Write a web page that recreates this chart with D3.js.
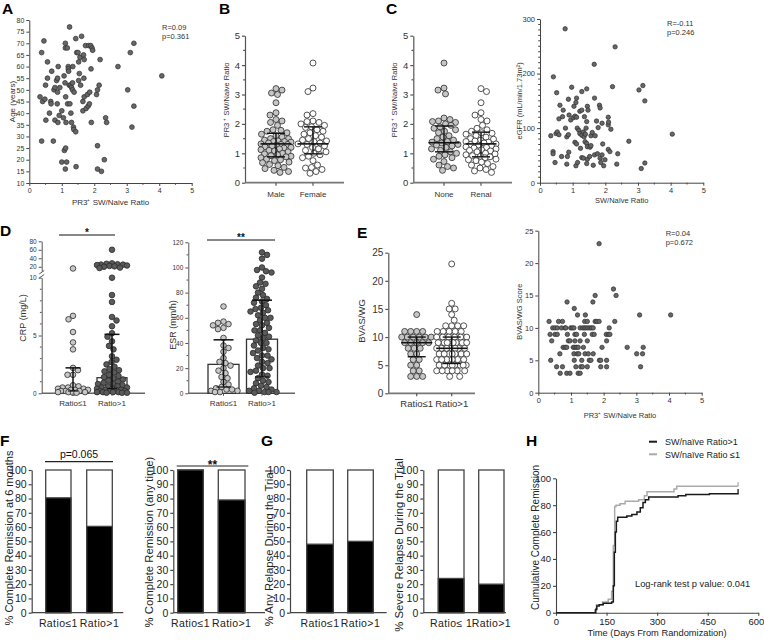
<!DOCTYPE html>
<html><head><meta charset="utf-8">
<script src="https://cdn.jsdelivr.net/npm/d3@7"></script>
<style>body{margin:0;background:#fff} svg{display:block}</style>
</head><body>
<svg id="chart" width="764" height="642"></svg>
<script>
// ================= DATA =================
// A: age vs PR3+ SW/naive ratio
const aRatio = [0.33,0.38,0.38,0.45,0.41,0.48,0.5,0.51,0.56,0.56, 0.62,0.66,0.67,0.69,0.74,0.76,0.79,0.79,0.84,0.86, 0.87,0.87,0.89,0.88,0.92,0.94,1.0,1.0,1.05,1.07, 1.08,1.1,1.11,1.11,1.12,1.12,1.11,1.13,1.15,1.17, 1.18,1.2,1.2,1.21,1.23,1.24,1.25,1.27,1.28,1.3, 1.3,1.33,1.33,1.34,1.36,1.37,1.38,1.43,1.43,1.44, 1.46,1.5,1.52,1.52,1.54,1.56,1.58,1.61,1.65,1.65, 1.67,1.68,1.69,1.69,1.73,1.75,1.79,1.81,1.83,1.85, 1.86,1.89,1.9,1.91,1.93,1.95,2.07,2.1,2.1,2.1, 2.15,2.18,2.22,2.31,2.35,2.38,2.73,3.03,3.11,3.16, 3.22,3.22,4.08];
const aAge = [47,66,28,71,45,46,52,37,55,62, 40,45,44,58,28,50,51,37,54,44, 49,55,60,36,39,51,41,19,38,56, 24,53,68,70,25,47,16,36,19,68, 44,60,59,58,52,77,44,52,40,36, 51,53,50,60,34,33,49,72,32,17, 66,66,54,62,57,64,52,73,45,41, 65,55,63,47,69,42,48,43,69,44, 49,69,59,36,68,67,48,50,26,16, 52,63,15,20,38,36,60,50,66,34, 70,43,56];
const aStats = ["R=0.09", "p=0.361"];

// B: ratio by sex
const bMale = [3.2,3.15,3.05,3.0,2.72,2.38,2.3,2.15,2.1,2.05,1.95,1.8,1.78,1.75,1.7,1.65,1.6,1.55,1.5,1.5,1.45,1.42,1.4,1.4,1.38,1.35,1.32,1.3,1.3,1.28,1.25,1.22,1.2,1.18,1.15,1.12,1.1,1.08,1.05,1.0,0.98,0.95,0.92,0.9,0.88,0.85,0.8,0.78,0.75,0.7,0.68,0.62,0.58,0.52,0.48,0.42,0.38,0.35];
const bFemale = [4.07,3.22,3.1,2.35,2.3,2.1,2.08,2.05,2.0,1.95,1.9,1.88,1.8,1.75,1.7,1.65,1.6,1.55,1.5,1.45,1.42,1.4,1.35,1.32,1.3,1.25,1.2,1.15,1.1,1.05,1.0,0.95,0.9,0.85,0.75,0.6,0.52,0.5,0.45,0.38,0.32];
const bSummary = {male:[0.88,1.32,1.68], female:[0.98,1.32,1.9]}; // q1, median, q3
const bCats = ["Male","Female"];

// C: ratio by renal involvement
const cNone = [4.07,3.22,3.15,3.02,2.2,2.15,2.1,2.08,2.05,2.0,1.95,1.9,1.85,1.8,1.75,1.7,1.6,1.55,1.5,1.45,1.4,1.38,1.35,1.3,1.28,1.25,1.2,1.15,1.1,1.05,1.0,0.95,0.9,0.85,0.8,0.72,0.6,0.55,0.5,0.42];
const cRenal = [3.2,3.1,2.72,2.38,2.3,2.15,2.1,1.95,1.85,1.8,1.75,1.7,1.68,1.65,1.6,1.55,1.5,1.48,1.45,1.42,1.4,1.38,1.35,1.32,1.3,1.28,1.25,1.22,1.2,1.18,1.15,1.12,1.1,1.08,1.05,1.0,0.98,0.95,0.92,0.9,0.88,0.85,0.8,0.78,0.75,0.7,0.65,0.6,0.55,0.5,0.45,0.4,0.35];
const cSummary = {none:[1.05,1.36,1.93], renal:[0.88,1.32,1.72]};
const cCats = ["None","Renal"];

// C (right): eGFR vs ratio
const cRatio = [0.77,2.30,1.66,0.41,0.51,0.97,0.61,0.71,0.58,0.69, 0.87,1.04,1.10,1.12,1.28,1.43,1.67,1.82,1.84,2.22, 3.03,3.15,3.21,4.05,2.72,0.33,0.49,0.53,0.58,0.40, 0.40,0.46,0.66,0.82,0.84,0.88,0.82,0.87,0.78,0.89, 0.94,1.02,1.07,1.12,1.07,1.12,1.10,1.15,1.14,1.19, 1.22,1.28,1.22,1.28,1.24,1.28,1.33,1.33,1.35,1.38, 1.36,1.41,1.43,1.45,1.47,1.43,1.45,1.45,1.43,1.39, 1.52,1.53,1.56,1.56,1.60,1.63,1.67,1.69,1.73,1.76, 1.78,1.84,1.86,1.90,1.92,1.90,1.95,1.99,2.09,2.09, 2.10,2.09,2.14,2.17,2.38,2.35,3.10,3.21];
const cEgfr = [282,249,217,194,165,175,142,133,117,121, 153,140,147,155,167,172,155,142,137,176, 170,178,150,89,76,86,90,93,88,57, 53,37,48,34,48,56,84,88,100,124, 115,119,122,120,74,71,31,37,100,96, 90,87,131,133,63,46,45,93,84,75, 121,100,112,140,133,72,66,43,35,89, 48,65,68,86,92,32,51,86,113,53, 101,45,37,109,71,51,31,42,106,120, 111,61,57,98,53,34,26,36];
const cStats = ["R=-0.11", "p=0.246"];

// D: CRP and ESR by ratio group
const groupCats = ["Ratio\u22641","Ratio>1"];
const crpLow = [16,6.7,6.4,5.3,4.4,3.8,2.2,2.0,1.6,1.6,0.7,0.6,0.5,0.5,0.4,0.4,0.3,0.3,0.3,0.2,0.2,0.2,0.1,0.1,0.1,0.05,0.05];
const crpHigh = [60,28,27,26,25,25,24,23,22,21,20,18,17,10,8.5,7.9,6.6,6.3,5.8,5.2,4.9,4.5,4.1,3.8,3.2,2.9,2.7,2.5,2.3,2.1,2.0,1.9,1.8,1.6,1.5,1.4,1.3,1.2,1.1,1.0,0.9,0.8,0.8,0.7,0.6,0.6,0.5,0.5,0.4,0.4,0.3,0.3,0.3,0.2,0.2,0.2,0.1,0.1,0.1,0.1,0.05,0.05,0.05];
const crpBars = [[0.2,0.4,2.2],[0.4,1.35,5.1]]; // low, bar, high
const esrLow = [69,57,56,55,54,52,51,44,38,36,33,28,25,24,22,20,18,16,13,12,9,7,5,4,3,3,2,2,1,1];
const esrHigh = [112,110,107,100,98,97,96,92,88,87,85,83,80,78,76,75,73,72,70,68,67,66,65,64,62,60,60,58,56,55,54,52,50,50,48,46,45,44,42,40,40,38,36,35,34,32,30,30,28,27,25,24,22,20,20,18,17,15,14,12,10,9,8,6,5,4,3,2,2,1,1,1,0.5];
const esrBars = [[5,23,42.5],[13,43,74]];

// E: BVAS/WG
const eLow = [14,11,11,11,11,10,10,10,10,10,10,9,9,9,9,9,8,8,8,7,7,6,6,5,5,4,4,3,3,3];
const eHigh = [23,16,15,15,14,13,12,12,12,12,11,11,11,11,11,10,10,10,10,10,10,10,10,10,10,10,9,9,9,9,9,9,9,9,8,8,8,8,8,8,8,7,7,7,7,7,7,7,6,6,6,6,6,6,5,5,5,5,5,5,5,5,4,4,4,4,4,4,3,3];
const eSummary = {low:[6.5,9,10], high:[5.3,8,10]};
const eScoreLevels = [23,16,15,14,13,12,11,10,9,8,7,6,5,4,3];
const eRatioByLevel = [[1.86],[2.3],[1.74,2.38],[0.88,1.67],[1.1],[1.2,1.44,3.1,4.05],
  [0.33,0.62,0.74,1.42,1.5,1.74,1.79,1.86,2.34],
  [0.44,0.51,0.58,0.71,0.82,0.84,0.99,1.04,1.09,1.28,1.36,1.41,1.46,1.52,1.58,1.63,1.68,2.17],
  [0.36,0.51,0.58,0.89,1.12,1.17,1.41,1.65,1.71,2.08,2.14,2.19],
  [0.41,0.92,0.97,1.12,1.28,1.5,2.09],
  [0.76,0.82,0.87,1.07,1.12,1.17,1.22,1.38,1.95,2.72,3.21],
  [0.66,1.09,1.19,1.24,1.43,1.53,1.68,3.01,3.19],
  [0.38,1.1,1.33,1.56,1.61,1.87,1.91,2.09],
  [0.56,0.74,1.15,1.3,1.35,1.5,1.91,2.09,3.13],
  [0.67,0.87,0.97,1.22,1.28]];
const eStats = ["R=0.04", "p=0.672"];

// F, G: percentages (filled part) per group
const fRemission6m = [80.5, 60.5];
const fRemissionAny = [100, 79];
const gAnyRelapse = [48, 50];
const gSevereRelapse = [24, 20];
const percentTicks = [0,10,20,30,40,50,60,70,80,90,100];

// H: Kaplan-Meier cumulative complete remission
const kmHighDays = [0,118,121,128,140,165,170,173,176,179,183,210,225,240,250,258,265,275,285,362,385,455,540];
const kmHighPct  = [0,2.5,5,6,7,8,20,45,60,68,71,72,73,75,78,82,84,86,86,87,88,88.5,89];
const kmLowDays  = [0,115,120,138,155,165,170,174,178,190,205,245,262,270,350,358,540];
const kmLowPct   = [0,2,6,8,10,16,50,79,80,81,83,84,87,90,92,94,94];
const kmDayTicks = [0,150,300,450,600];
const kmLegend = ["SW/na\u00efve Ratio>1","SW/na\u00efve Ratio \u22641"];
const kmText = "Log-rank test p value: 0.041";

// ================= DRAWING =================
const svg = d3.select("#chart");
const FONT = '"Liberation Sans", Arial, Helvetica, sans-serif';
const INK = "#222";
svg.append("rect").attr("width",764).attr("height",642).attr("fill","#fff");

function txt(x, y, s, o = {}) {
  const size = o.size || 8;
  const t = svg.append("text").attr("x", x).attr("y", y).attr("font-family", FONT)
    .attr("font-size", size).attr("fill", o.fill || INK).attr("text-anchor", o.anchor || "start").text(s);
  if (o.weight) t.attr("font-weight", o.weight);
  if (o.rotate) t.attr("transform", `rotate(-90,${x},${y})`);
  if (o.ls) t.attr("letter-spacing", o.ls);
  return t;
}
function letter(x, y, s) { txt(x, y, s, {size: 15.5, weight: "bold", fill: "#000"}); }

function styleAxis(g, o) {
  g.attr("font-family", FONT);
  g.select(".domain").attr("stroke", o.stroke || "#333").attr("stroke-width", o.sw || 1);
  g.selectAll(".tick line").attr("stroke", o.stroke || "#333").attr("stroke-width", o.sw || 1);
  g.selectAll(".tick text").attr("font-size", o.font || 7).attr("fill", o.fill || "#333").attr("font-family", FONT);
}
function yAxis(x, scale, ticks, o = {}) {
  const g = svg.append("g").attr("transform", `translate(${x},0)`)
    .call(d3.axisLeft(scale).tickValues(ticks).tickSize(o.size ?? 3).tickSizeOuter(0)
      .tickPadding(o.pad ?? 2).tickFormat(o.fmt || (d => d)));
  styleAxis(g, o);
  (o.minor || []).forEach(v => g.append("line").attr("x1", 0).attr("x2", -(o.msize ?? 1.8))
    .attr("y1", scale(v)).attr("y2", scale(v)).attr("stroke", o.stroke || "#333").attr("stroke-width", o.sw || 1));
  return g;
}
function xAxis(y, scale, ticks, o = {}) {
  const g = svg.append("g").attr("transform", `translate(0,${y})`)
    .call(d3.axisBottom(scale).tickValues(ticks).tickSize(o.size ?? 3).tickSizeOuter(0)
      .tickPadding(o.pad ?? 2).tickFormat(o.fmt || (d => d)));
  styleAxis(g, o);
  (o.minor || []).forEach(v => g.append("line").attr("y1", 0).attr("y2", o.msize ?? 1.8)
    .attr("x1", scale(v)).attr("x2", scale(v)).attr("stroke", o.stroke || "#333").attr("stroke-width", o.sw || 1));
  return g;
}
function line(x1, y1, x2, y2, o = {}) {
  return svg.append("line").attr("x1", x1).attr("y1", y1).attr("x2", x2).attr("y2", y2)
    .attr("stroke", o.stroke || "#111").attr("stroke-width", o.sw || 1);
}

// beeswarm layout (points placed by value, spread sideways to avoid overlap)
function swarm(values, yScale, cx, minD, maxHalf) {
  const pts = values.map(v => ({v, y: yScale(v)})).sort((a, b) => a.y - b.y);
  const placed = [];
  pts.forEach((p, idx) => {
    let bestOff = 0, bestD = -1;
    const sgn = idx % 2 ? 1 : -1;
    for (let k = 0; ; k++) {
      const off = (k % 2 ? sgn : -sgn) * Math.ceil(k / 2) * 0.5;
      if (Math.abs(off) > maxHalf) break;
      let dmin = Infinity;
      for (const q of placed) {
        const dy = q.y - p.y;
        if (Math.abs(dy) >= minD) continue;
        const d = Math.hypot(q.x - (cx + off), dy);
        if (d < dmin) dmin = d;
      }
      if (dmin >= minD) { bestOff = off; bestD = dmin; break; }
      if (dmin > bestD) { bestD = dmin; bestOff = off; }
    }
    p.x = cx + bestOff;
    placed.push(p);
  });
  return placed;
}
function dots(pts, r, fill, stroke = "#2a2a2a", sw = 0.8) {
  svg.append("g").selectAll("circle").data(pts).join("circle")
    .attr("cx", d => d.x).attr("cy", d => d.y).attr("r", r)
    .attr("fill", fill).attr("stroke", stroke).attr("stroke-width", sw);
}
function medianIQR(cx, y, s, wMed, wCap) {
  line(cx, y(s[0]), cx, y(s[2]), {sw: 1.4});
  line(cx - wCap / 2, y(s[0]), cx + wCap / 2, y(s[0]), {sw: 1.4});
  line(cx - wCap / 2, y(s[2]), cx + wCap / 2, y(s[2]), {sw: 1.4});
  line(cx - wMed / 2, y(s[1]), cx + wMed / 2, y(s[1]), {sw: 1.6});
}

// ---------- scatter panels ----------
function scatterPanel(p) {
  const x = d3.scaleLinear().domain(p.xd).range([p.x0, p.x1]);
  const y = d3.scaleLinear().domain(p.yd).range([p.yb, p.yt]);
  yAxis(p.x0, y, p.yTicks, {font: p.font, minor: p.yMinor, stroke: "#444"});
  xAxis(p.yb, x, p.xTicks, {font: p.font, minor: p.xMinor, stroke: "#444"});
  const pts = d3.zip(p.xs, p.ys).map(d => ({x: x(d[0]), y: y(d[1])}));
  dots(pts, p.r, "#666", "#2e2e2e", 0.7);
  txt((p.x0 + p.x1) / 2, p.xLabelY, p.xLabel, {size: p.labelSize, anchor: "middle", fill: "#333"});
  txt(p.yLabelX, (p.yb + p.yt) / 2, p.yLabel, {size: p.labelSize, anchor: "middle", rotate: true, fill: "#333"});
  txt(p.statX, p.statY, p.stats[0], {size: 7.5, fill: "#333"});
  txt(p.statX, p.statY + 8.5, p.stats[1], {size: 7.5, fill: "#333"});
}

// ---------- strip (scatter dot) panels ----------
function stripPanel(p) {
  const y = d3.scaleLinear().domain(p.yd).range([p.yb, p.yt]);
  yAxis(p.x0, y, p.yTicks, {font: p.font, stroke: "#555", sw: 1.2, size: 3, minor: p.yMinor});
  line(p.x0, p.yb, p.x1, p.yb, {stroke: "#777", sw: 1.8});
  p.groups.forEach(gr => {
    line(gr.cx, p.yb, gr.cx, p.yb + 3, {stroke: "#555", sw: 1.2});
    const pts = swarm(gr.vals, y, gr.cx, p.r * 2, p.maxHalf);
    dots(pts, p.r, gr.fill);
    medianIQR(gr.cx, y, gr.s, 31, 18);
    txt(gr.cx, p.yb + 14, gr.label, {size: p.catSize, anchor: "middle", fill: "#333"});
  });
  txt(p.yLabelX, p.yLabelY, p.yLabel, {size: p.labelSize, anchor: "middle", rotate: true, fill: "#333"});
}

// ---------- stacked percentage bar panels ----------
function percentPanel(p) {
  const y = d3.scaleLinear().domain([0, 100]).range([612.7, 470]);
  p.bars.forEach((b, i) => {
    svg.append("rect").attr("x", b[0]).attr("width", b[1] - b[0]).attr("y", y(100)).attr("height", y(0) - y(100))
      .attr("fill", "#fff").attr("stroke", "#444").attr("stroke-width", 1.3);
    svg.append("rect").attr("x", b[0]).attr("width", b[1] - b[0]).attr("y", y(p.vals[i])).attr("height", y(0) - y(p.vals[i]))
      .attr("fill", "#000").attr("stroke", "#444").attr("stroke-width", 1.3);
    txt((b[0] + b[1]) / 2, 626.5, p.cats[i], {size: 10.5, anchor: "middle", fill: "#222", ls: 0.4});
  });
  yAxis(p.x0, y, percentTicks, {font: 10.5, stroke: "#444", sw: 1.2, size: 3, fill: "#222"});
  line(p.x0, y(0), p.x1, y(0), {stroke: "#444", sw: 1.3});
  txt(p.yLabelX, p.yLabelY, p.yLabel, {size: p.labelSize || 11.3, anchor: "middle", rotate: true, fill: "#222"});
  if (p.sig) {
    line(p.sig[0], p.sig[1], p.sig[2], p.sig[1], {stroke: "#222", sw: 1.2});
    txt((p.sig[0] + p.sig[2]) / 2, p.sig[1] - 3.5 + (p.sigStar ? 6 : 0), p.sig[3], {size: p.sigStar ? 12 : 10.5, anchor: "middle", fill: "#111", weight: p.sigStar ? "bold" : null});
  }
}

// ===== Panel A =====
letter(2, 14, "A");
scatterPanel({x0: 29.3, x1: 191.7, yb: 183, yt: 20, xd: [0, 5], yd: [10, 80],
  xTicks: [0,1,2,3,4,5], yTicks: d3.range(10, 81, 5), xMinor: [0.5,1.5,2.5,3.5,4.5],
  xs: aRatio, ys: aAge, r: 2.4, font: 7,
  xLabel: "PR3\u207A SW/Naive Ratio", xLabelY: 205, labelSize: 8,
  yLabel: "Age (years)", yLabelX: 15, stats: aStats, statX: 162, statY: 30});

// ===== Panel B =====
letter(219, 14, "B");
stripPanel({x0: 245, x1: 344, yb: 182.7, yt: 35.7, yd: [0, 5], yTicks: [0,1,2,3,4,5],
  yMinor: [0.5,1.5,2.5,3.5,4.5], font: 9.5, r: 3, maxHalf: 15, catSize: 8,
  groups: [{cx: 276, vals: bMale, fill: "#c6c6c6", s: bSummary.male, label: bCats[0]},
           {cx: 313, vals: bFemale, fill: "#fff", s: bSummary.female, label: bCats[1]}],
  yLabel: "PR3 \u207A SW/Naive Ratio", yLabelX: 228.5, yLabelY: 100, labelSize: 7.5});

// ===== Panel C (strip) =====
letter(386, 14, "C");
stripPanel({x0: 413.3, x1: 512, yb: 182.7, yt: 35.7, yd: [0, 5], yTicks: [0,1,2,3,4,5],
  yMinor: [0.5,1.5,2.5,3.5,4.5], font: 9.5, r: 3, maxHalf: 15, catSize: 8,
  groups: [{cx: 444, vals: cNone, fill: "#c6c6c6", s: cSummary.none, label: cCats[0]},
           {cx: 481, vals: cRenal, fill: "#fff", s: cSummary.renal, label: cCats[1]}],
  yLabel: "PR3 \u207A SW/Naive Ratio", yLabelX: 396.5, yLabelY: 100, labelSize: 7.5});

// ===== Panel C (eGFR scatter) =====
scatterPanel({x0: 540, x1: 703.3, yb: 182.7, yt: 19, xd: [0, 5], yd: [0, 300],
  xTicks: [0,1,2,3,4,5], yTicks: [0,100,200,300], yMinor: d3.range(10, 300, 10).filter(v => v % 100),
  xMinor: [0.5,1.5,2.5,3.5,4.5],
  xs: cRatio, ys: cEgfr, r: 2.2, font: 7.5,
  xLabel: "SW/Na\u00efve Ratio", xLabelY: 203, labelSize: 7.5,
  yLabel: "eGFR (mL/min/1.73m\u00B2)", yLabelX: 522, stats: cStats, statX: 667, statY: 26});

// ===== Panel D: CRP =====
letter(0, 236, "D");
{
  const yLo = d3.scaleLinear().domain([0, 10]).range([393.3, 277.7]);
  const yHi = d3.scaleLinear().domain([10, 80]).range([271, 241.3]);
  const y = v => v <= 10 ? yLo(v) : yHi(v);
  const x0 = 41.7, x1 = 145, cx = [73, 112];
  yAxis(x0, yLo, [0, 5, 10], {font: 6.5, stroke: "#555", sw: 1, minor: [1,2,3,4,6,7,8,9]});
  yAxis(x0, yHi, [20, 40, 60, 80], {font: 6.5, stroke: "#555", sw: 1});
  // break marks
  svg.append("rect").attr("x", x0 - 3).attr("y", 272).attr("width", 6).attr("height", 5).attr("fill", "#fff");
  line(x0 - 2.5, 278, x0 + 2.5, 274.5, {stroke: "#444", sw: 0.9});
  line(x0 - 2.5, 274, x0 + 2.5, 270.5, {stroke: "#444", sw: 0.9});
  line(x0, yLo(0), x1, yLo(0), {stroke: "#666", sw: 1.5});
  const fills = ["#c8c8c8", "#5a5a5a"];
  [crpLow, crpHigh].forEach((vals, i) => {
    const b = crpBars[i];
    svg.append("rect").attr("x", cx[i] - 15).attr("width", 30).attr("y", y(b[1])).attr("height", yLo(0) - y(b[1]))
      .attr("fill", "#fff").attr("stroke", "#333").attr("stroke-width", 1.3);
    dots(swarm(vals, y, cx[i], 5.4, 15), 2.8, fills[i]);
    line(cx[i], y(b[0]), cx[i], y(b[2]), {sw: 1.5});
    line(cx[i] - 7.5, y(b[2]), cx[i] + 7.5, y(b[2]), {sw: 1.5});
    line(cx[i] - 5, y(b[0]), cx[i] + 5, y(b[0]), {sw: 1.2});
    line(cx[i], yLo(0), cx[i], yLo(0) + 2.5, {stroke: "#555"});
    txt(cx[i], 406, groupCats[i], {size: 8, anchor: "middle", fill: "#333"});
  });
  line(59, 235, 115, 235, {sw: 1});
  txt(87, 235.5, "*", {size: 10, anchor: "middle", fill: "#111", weight: "bold"});
  txt(25.5, 318, "CRP (mg/L)", {size: 9, anchor: "middle", rotate: true, fill: "#333"});
}

// ===== Panel D: ESR =====
{
  const y = d3.scaleLinear().domain([0, 120]).range([393.3, 242.3]);
  const x0 = 188.3, x1 = 295, cx = [223.5, 262];
  yAxis(x0, y, [0,20,40,60,80,100,120], {font: 6.5, stroke: "#555", sw: 1, minor: [10,30,50,70,90,110]});
  line(x0, y(0), x1, y(0), {stroke: "#666", sw: 1.5});
  const fills = ["#c8c8c8", "#5a5a5a"];
  [esrLow, esrHigh].forEach((vals, i) => {
    const b = esrBars[i];
    svg.append("rect").attr("x", cx[i] - 15.5).attr("width", 31).attr("y", y(b[1])).attr("height", y(0) - y(b[1]))
      .attr("fill", "#fff").attr("stroke", "#333").attr("stroke-width", 1.3);
    dots(swarm(vals, y, cx[i], 5.4, 15), 2.8, fills[i]);
    line(cx[i], y(b[0]), cx[i], y(b[2]), {sw: 1.5});
    line(cx[i] - 10, y(b[2]), cx[i] + 10, y(b[2]), {sw: 1.5});
    line(cx[i] - 7, y(b[0]), cx[i] + 7, y(b[0]), {sw: 1.2});
    line(cx[i], y(0), cx[i], y(0) + 2.5, {stroke: "#555"});
    txt(cx[i], 406, groupCats[i], {size: 8, anchor: "middle", fill: "#333"});
  });
  line(207, 240, 275, 240, {sw: 1});
  txt(241, 240.5, "**", {size: 10, anchor: "middle", fill: "#111", weight: "bold"});
  txt(175.5, 325, "ESR (mm/h)", {size: 9, anchor: "middle", rotate: true, fill: "#333"});
}

// ===== Panel E (strip) =====
letter(357, 238, "E");
stripPanel({x0: 388.3, x1: 475, yb: 393.3, yt: 252.7, yd: [0, 25], yTicks: [0,5,10,15,20,25],
  yMinor: [], font: 10, r: 3, maxHalf: 15, catSize: 9.5,
  groups: [{cx: 416.7, vals: eLow, fill: "#c6c6c6", s: eSummary.low, label: groupCats[0]},
           {cx: 451.7, vals: eHigh, fill: "#fff", s: eSummary.high, label: groupCats[1]}],
  yLabel: "BVAS/WG", yLabelX: 365, yLabelY: 321, labelSize: 9.5});

// ===== Panel E (scatter) =====
{
  const xs = [], ys = [];
  eScoreLevels.forEach((lv, i) => eRatioByLevel[i].forEach(r => { xs.push(r); ys.push(lv); }));
  scatterPanel({x0: 538.3, x1: 701.7, yb: 392.7, yt: 230.7, xd: [0, 5], yd: [0, 25],
    xTicks: [0,1,2,3,4,5], yTicks: [0,5,10,15,20,25], xMinor: [0.5,1.5,2.5,3.5,4.5],
    xs, ys, r: 2.2, font: 7.5,
    xLabel: "PR3\u207A SW/Naive Ratio", xLabelY: 418, labelSize: 7.5,
    yLabel: "BVAS/WG Score", yLabelX: 522, stats: eStats, statX: 665.7, statY: 236});
}

// ===== Panel F =====
letter(0, 446, "F");
percentPanel({x0: 31.7, x1: 123.3, bars: [[45.7, 71], [86.7, 112.3]], vals: fRemission6m, cats: groupCats,
  yLabel: "% Complete Remission at 6 months", yLabelX: 12.5, yLabelY: 538, labelSize: 11,
  sig: [45, 461.7, 113, "p=0.065"]});
percentPanel({x0: 173.3, x1: 265, bars: [[177.7, 203.3], [218.3, 245]], vals: fRemissionAny, cats: groupCats,
  yLabel: "% Complete Remission (any time)", yLabelX: 152.5, yLabelY: 542, sig: [176.7, 466, 248.3, "**"], sigStar: true});

// ===== Panel G =====
letter(261, 446, "G");
percentPanel({x0: 290, x1: 386.7, bars: [[306.7, 333.3], [347.7, 373.3]], vals: gAnyRelapse, cats: groupCats,
  yLabel: "% Any Relapse During the Trial", yLabelX: 272.5, yLabelY: 548});
percentPanel({x0: 423.3, x1: 506, bars: [[438.3, 464], [478.7, 504]], vals: gSevereRelapse, cats: ["Ratio\u2264 1", "Ratio>1"],
  yLabel: "% Severe Relapse During the Trial", yLabelX: 402.5, yLabelY: 545});

// ===== Panel H =====
letter(526, 446, "H");
{
  const x = d3.scaleLinear().domain([0, 600]).range([556, 758.3]);
  const y = d3.scaleLinear().domain([0, 100]).range([612.7, 478.3]);
  yAxis(556, y, [0,20,40,60,80,100], {font: 9.5, stroke: "#444", sw: 1.1, fill: "#222"});
  const gx = xAxis(612.7, x, kmDayTicks, {font: 9.5, stroke: "#444", sw: 1.1, fill: "#222", pad: 3});
  gx.selectAll(".tick text").filter(d => d === 600).attr("text-anchor", "end").attr("dx", 5.5);
  const ln = d3.line().x(d => x(d[0])).y(d => y(d[1])).curve(d3.curveStepAfter);
  svg.append("path").attr("d", ln(d3.zip(kmLowDays, kmLowPct))).attr("fill", "none").attr("stroke", "#aaa").attr("stroke-width", 1.5);
  svg.append("path").attr("d", ln(d3.zip(kmHighDays, kmHighPct))).attr("fill", "none").attr("stroke", "#1a1a1a").attr("stroke-width", 1.5);
  // censor ticks at end
  const lastLo = [kmLowDays[kmLowDays.length - 1], kmLowPct[kmLowPct.length - 1]];
  const lastHi = [kmHighDays[kmHighDays.length - 1], kmHighPct[kmHighPct.length - 1]];
  line(x(lastLo[0]), y(lastLo[1]), x(lastLo[0]), y(lastLo[1]) - 4, {stroke: "#aaa", sw: 1.3});
  line(x(lastHi[0]), y(lastHi[1]), x(lastHi[0]), y(lastHi[1]) - 4, {stroke: "#1a1a1a", sw: 1.3});
  line(649, 441.7, 657, 441.7, {stroke: "#1a1a1a", sw: 2});
  line(649, 454.3, 657, 454.3, {stroke: "#aaa", sw: 2});
  txt(665, 445, kmLegend[0], {size: 9, fill: "#222"});
  txt(665, 457.6, kmLegend[1], {size: 9, fill: "#222"});
  txt(635, 587, kmText, {size: 9.3, fill: "#222"});
  txt(657, 635.5, "Time (Days From Randomization)", {size: 9.3, anchor: "middle", fill: "#222"});
  txt(539, 537.5, "Cumulative Complete Remission", {size: 10, anchor: "middle", rotate: true, fill: "#222"});
}
</script>
</body></html>
